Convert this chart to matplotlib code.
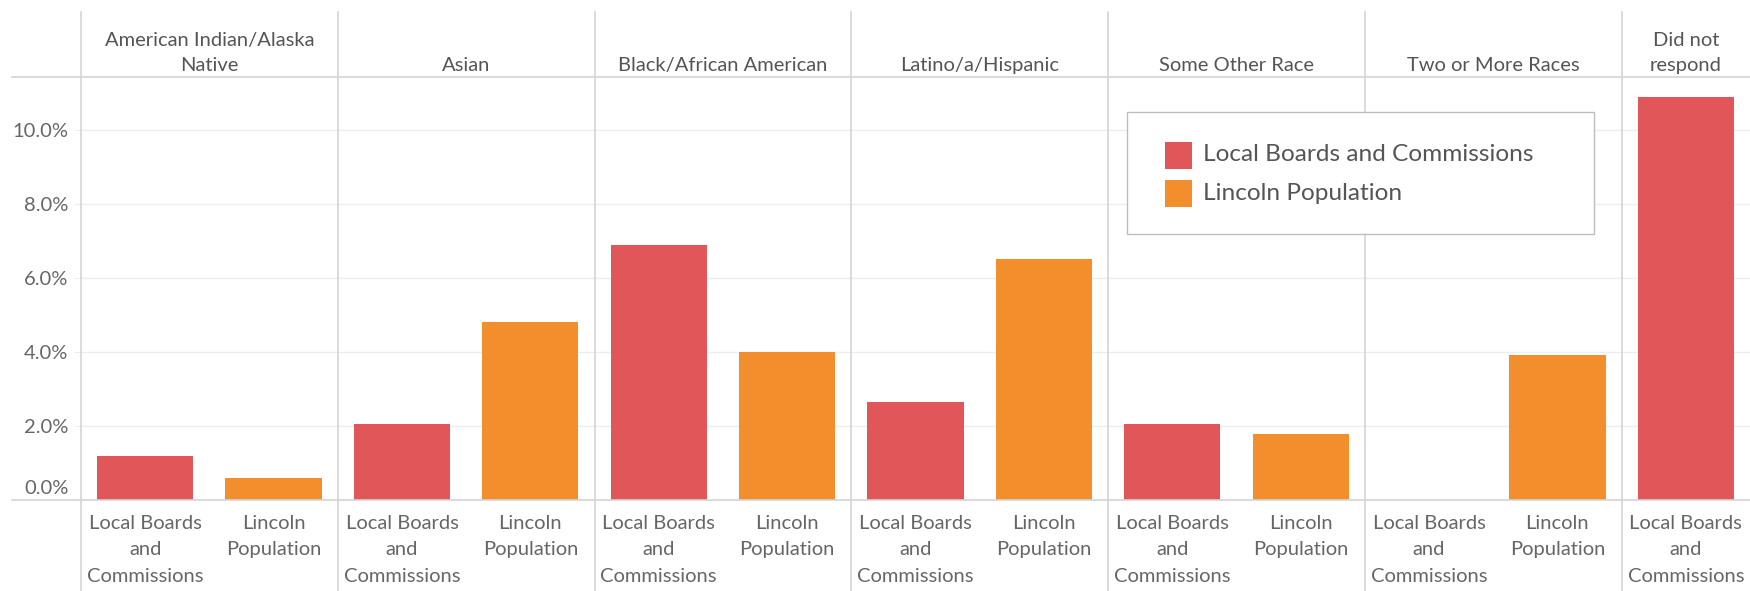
import matplotlib.pyplot as plt
import matplotlib.transforms as mtransforms
from matplotlib.lines import Line2D
from matplotlib.patches import Rectangle

# data (percent)
groups = ["American Indian/Alaska\nNative", "Asian", "Black/African American",
          "Latino/a/Hispanic", "Some Other Race", "Two or More Races", "Did not\nrespond"]
series = ["Local Boards and Commissions", "Lincoln Population"]
boards = [1.2, 2.05, 6.9, 2.65, 2.05, 0.0, 10.9]
lincoln = [0.6, 4.8, 4.0, 6.5, 1.78, 3.92, None]
x_labels = ["Local Boards\nand\nCommissions", "Lincoln\nPopulation"]
yticks = [0, 2, 4, 6, 8, 10]

red = "#E15759"
orange = "#F28E2B"
line_c = "#d4d4d4"
txt_c = "#666666"
fs = 14.5

plt.rcParams['font.family'] = ['Lato', 'DejaVu Sans']

W, H = 1750, 591
fig = plt.figure(figsize=(W / 100, H / 100), dpi=100)
ax_left, ax_bottom, ax_top = 81, 500, 76.7
ax = fig.add_axes([ax_left / W, 1 - ax_bottom / H, 1 - ax_left / W, (ax_bottom - ax_top) / H])

# build slots: one per bar (group member)
pos, vals, cols, labs, bounds, centers = [], [], [], [], [0], []
i = 0
for g, b, l in zip(groups, boards, lincoln):
    start = i
    pos.append(i + 0.5); vals.append(b); cols.append(red); labs.append(x_labels[0]); i += 1
    if l is not None:
        pos.append(i + 0.5); vals.append(l); cols.append(orange); labs.append(x_labels[1]); i += 1
    bounds.append(i)
    centers.append((start + i) / 2)

ax.bar(pos, vals, width=0.75, color=cols, zorder=3)
ax.set_xlim(0, i)
ax.set_ylim(0, 11.44)

for s in ax.spines.values():
    s.set_visible(False)

ax.set_yticks(yticks)
ax.set_yticklabels(["%.1f%%" % v for v in yticks])
ax.yaxis.grid(True, color="#ededed", lw=1, zorder=0)
ax.tick_params(axis="y", length=5, color="#ededed", labelsize=fs, labelcolor=txt_c, pad=4)
zero_lab = ax.get_yticklabels()[0]
zero_lab.set_transform(zero_lab.get_transform() +
                       mtransforms.ScaledTranslation(0, 13 / 100, fig.dpi_scale_trans))

ax.set_xticks(pos)
ax.set_xticklabels(labs, linespacing=1.68)
ax.tick_params(axis="x", length=0, labelsize=fs, labelcolor=txt_c, pad=10.5)

# panel dividers
ax_h = ax_bottom - ax_top
for b in bounds[:-1]:
    ax.axvline(b, ymin=-(H - ax_bottom) / ax_h, ymax=(ax_bottom - 12) / ax_h,
               color=line_c, lw=1.2, clip_on=False, zorder=4)

# header line and baseline
for yy in (ax_top, ax_bottom):
    fig.add_artist(Line2D([12 / W, 1], [1 - yy / H, 1 - yy / H], color=line_c, lw=1.2))

# group headers
for c, g in zip(centers, groups):
    ax.annotate(g, xy=(c, 1), xycoords=ax.get_xaxis_transform(), xytext=(0, 2),
                textcoords="offset points", ha="center", va="bottom",
                fontsize=fs, color="#555555", linespacing=1.6)

# legend
lx0, ly0, lx1, ly1 = 1127, 112, 1594, 234
fig.add_artist(Rectangle((lx0 / W, 1 - ly1 / H), (lx1 - lx0) / W, (ly1 - ly0) / H,
                         transform=fig.transFigure, facecolor="white", edgecolor="#bdbdbd",
                         lw=1, zorder=5))
for k, (name, col) in enumerate(zip(series, [red, orange])):
    cy = 155 + k * 38
    fig.add_artist(Rectangle((1165 / W, 1 - (cy + 13.5) / H), 27 / W, 27 / H,
                             transform=fig.transFigure, facecolor=col, edgecolor="none", zorder=6))
    fig.text(1203 / W, 1 - cy / H, name, ha="left", va="center", fontsize=17.6,
             color="#555555", zorder=6)

fig.savefig("out.png", dpi=100)
